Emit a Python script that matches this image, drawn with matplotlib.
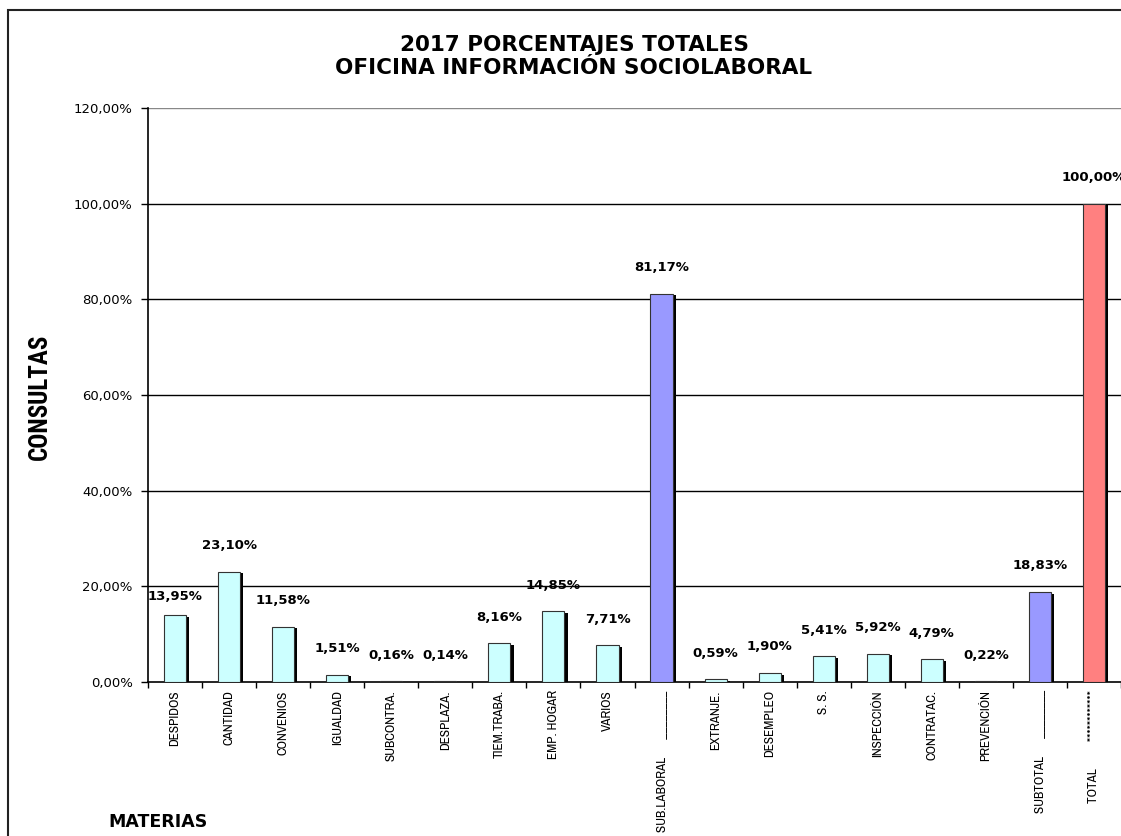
import matplotlib
matplotlib.use("Agg")
import matplotlib.pyplot as plt
import matplotlib.patheffects as pe
from matplotlib.patches import Rectangle
from matplotlib.ticker import FixedLocator

categories = ["DESPIDOS", "CANTIDAD", "CONVENIOS", "IGUALDAD", "SUBCONTRA.",
              "DESPLAZA.", "TIEM.TRABA.", "EMP. HOGAR", "VARIOS",
              "SUB.LABORAL      ________",
              "EXTRANJE.", "DESEMPLEO", "S. S.", "INSPECCIÓN", "CONTRATAC.",
              "PREVENCIÓN", "SUBTOTAL      ________", "TOTAL         ************"]
values = [13.95, 23.10, 11.58, 1.51, 0.16, 0.14, 8.16, 14.85, 7.71, 81.17,
          0.59, 1.90, 5.41, 5.92, 4.79, 0.22, 18.83, 100.00]
kinds = ["item"] * 9 + ["subtotal"] + ["item"] * 6 + ["subtotal", "total"]
yticks = [0, 20, 40, 60, 80, 100, 120]

colors = {"item": "#CCFFFF", "subtotal": "#9999FF", "total": "#FF8080"}
label_dy = {0: 9}  # points above bar top, default 14

NARROW = ["Archivo Narrow", "DejaVu Sans"]
NARROW_BOLD = ["Roboto Condensed", "DejaVu Sans"]
WIDE = ["DejaVu Sans"]

fig = plt.figure(figsize=(11.21, 8.36), dpi=100)
ax = fig.add_axes([148 / 1121, 1 - 682 / 836, 1 - 148 / 1121, (682 - 108) / 836])

x = list(range(len(values)))
bars = ax.bar(x, values, width=0.41, color=[colors[k] for k in kinds],
              edgecolor="#333333", linewidth=0.8, zorder=3)
for b in bars:
    b.set_path_effects([pe.SimplePatchShadow(offset=(2.3, -1.2), shadow_rgbFace="black", alpha=1.0),
                        pe.Normal()])

for xi, v in zip(x, values):
    ax.annotate(f"{v:.2f}%".replace(".", ","), (xi, v), xytext=(0, label_dy.get(xi, 14)),
                textcoords="offset points", ha="center", va="bottom",
                fontsize=9.5, fontweight="bold", family=WIDE, annotation_clip=False, zorder=5)

ax.set_xlim(-0.5, len(values) - 0.5)
ax.set_ylim(0, 120)

for g in yticks[1:-1]:
    ax.axhline(g, color="black", linewidth=1.0, zorder=1)
ax.axhline(120, color="#888888", linewidth=1.0, zorder=1)

ax.set_yticks(yticks)
ax.set_yticklabels([f"{t:.2f}%".replace(".", ",") for t in yticks], family=WIDE, fontsize=9.5)
ax.tick_params(axis="y", direction="out", length=5, width=1, pad=6)

ax.set_xticks(x)
ax.set_xticklabels(categories, rotation=90, ha="center", va="top", family=NARROW, fontsize=9.5)
ax.tick_params(axis="x", which="major", length=0, pad=6)
ax.xaxis.set_minor_locator(FixedLocator([i - 0.5 for i in range(len(values) + 1)]))
ax.tick_params(axis="x", which="minor", direction="out", length=4, width=1)

for s in ["top", "right"]:
    ax.spines[s].set_visible(False)
ax.spines["left"].set_linewidth(1.2)
ax.spines["bottom"].set_linewidth(1.2)

fig.text(574 / 1121, 1 - 45 / 836, "2017 PORCENTAJES TOTALES", ha="center", va="center",
         fontsize=15.5, fontweight="bold", family=WIDE)
fig.text(574 / 1121, 1 - 68 / 836, "OFICINA INFORMACIÓN SOCIOLABORAL", ha="center", va="center",
         fontsize=15.5, fontweight="bold", family=WIDE)
fig.text(40 / 1121, 1 - 397 / 836, "CONSULTAS", rotation=90, ha="center", va="center",
         fontsize=18, fontweight="bold", family=NARROW_BOLD)
fig.text(108 / 1121, 1 - 822 / 836, "MATERIAS", ha="left", va="center",
         fontsize=12.5, fontweight="bold", family=WIDE)

fig.patches.append(Rectangle((8 / 1121, -0.05), 1.2, 1.05 - 10 / 836, transform=fig.transFigure,
                             fill=False, edgecolor="#222222", linewidth=1.5))

fig.savefig("out.png", dpi=100)
